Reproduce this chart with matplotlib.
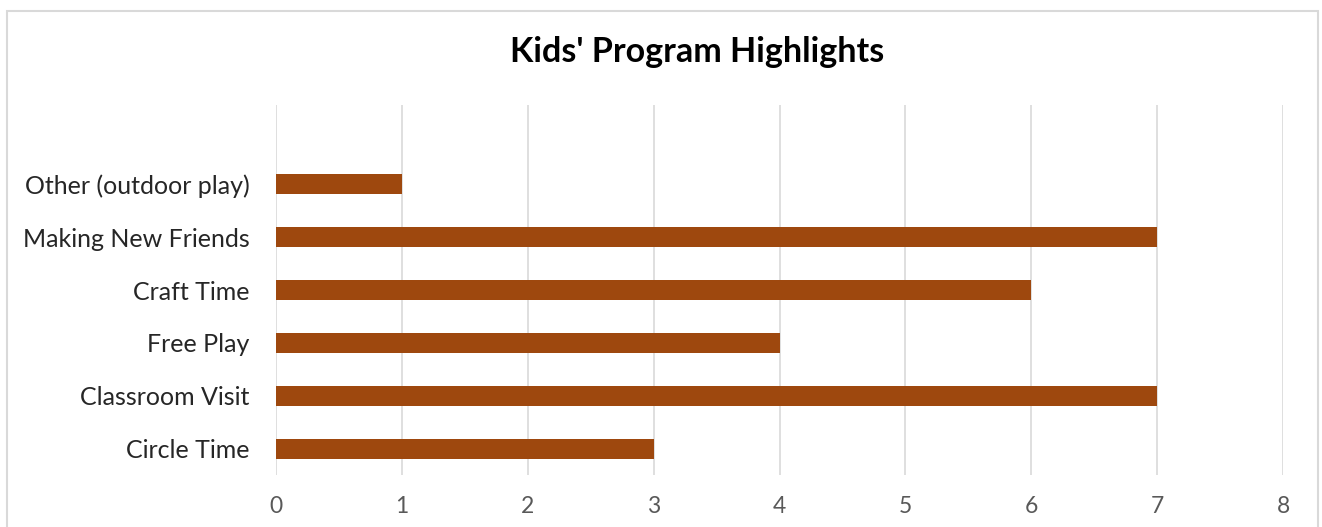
import matplotlib.pyplot as plt
from matplotlib.patches import Rectangle

categories = ['Circle Time', 'Classroom Visit', 'Free Play', 'Craft Time',
              'Making New Friends', 'Other (outdoor play)']
counts = [3, 7, 4, 6, 7, 1]
xticks = [0, 1, 2, 3, 4, 5, 6, 7, 8]

plt.rcParams['font.family'] = ['Lato', 'DejaVu Sans']

fig = plt.figure(figsize=(13.22, 5.27), dpi=100)
fig.patches.append(Rectangle((7 / 1322, -0.1), 1311 / 1322, 1.1 - 11 / 527,
                             transform=fig.transFigure, fill=False,
                             edgecolor='#D9D9D9', linewidth=1.5))

ax = fig.add_axes([276 / 1322, 1 - 475 / 527, 1007 / 1322, 370 / 527])
ax.barh(range(len(categories)), counts, height=0.38, color='#9E480E', zorder=3)

ax.set_xlim(0, 8)
ax.set_ylim(-0.5, 6.5)
ax.set_xticks(xticks)
ax.set_yticks(range(len(categories)))
ax.set_yticklabels(categories)
ax.grid(axis='x', color='#D9D9D9', linewidth=1.2, zorder=0)
for s in ax.spines.values():
    s.set_visible(False)
ax.tick_params(axis='x', length=0, pad=15, labelsize=16.5, labelcolor='#595959')
ax.tick_params(axis='y', length=0, pad=19, labelsize=18, labelcolor='#262626')

fig.text(697 / 1322, 1 - 52 / 527, "Kids' Program Highlights", ha='center', va='center',
         fontsize=24.5, fontweight='bold', color='#000000')

fig.savefig('out.png', dpi=100)
